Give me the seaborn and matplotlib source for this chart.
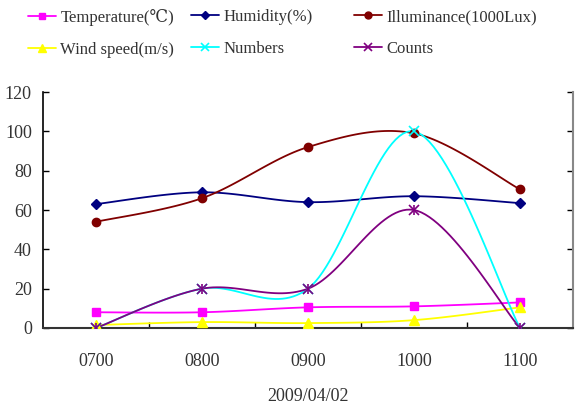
import numpy as np
import pandas as pd
import seaborn as sns
import matplotlib
matplotlib.use("Agg")
import matplotlib.pyplot as plt
from matplotlib.ticker import FixedLocator

# ---- data ----
times = ["0700", "0800", "0900", "1000", "1100"]
temperature = [8, 8, 10.5, 11, 13]
humidity = [63, 69, 64, 67, 63.5]
illuminance = [54, 66, 92, 99, 70.5]
wind_speed = [1.5, 3, 2.5, 4, 10.5]
numbers = [0, 20, 20, 100, 0]
counts = [0, 20, 20, 60, 0]
series_names = ["Temperature(℃)", "Humidity(%)", "Illuminance(1000Lux)",
                "Wind speed(m/s)", "Numbers", "Counts"]
xlabel = "2009/04/02"
yticks = [0, 20, 40, 60, 80, 100, 120]

series = [temperature, humidity, illuminance, wind_speed, numbers, counts]
colors = ["#FF00FF", "#000080", "#800000", "#FFFF00", "#00FFFF", "#800080"]
markers = ["s", "D", "o", "^", "x", "*x"]
msizes = [6, 5, 6, 7, 7, 7]

sns.set_theme(style="white")
plt.rcParams["font.family"] = ["Liberation Serif", "DejaVu Serif"]

fig = plt.figure(figsize=(5.77, 4.15), dpi=100)
ax = fig.add_axes([43/577, 1-328/415, 530/577, 236/415])

xpos = np.arange(len(times)) + 0.5


def smooth(xs, ys, n=30):
    # Catmull-Rom style smoothing (drawing style of the line only)
    xs = np.asarray(xs, float); ys = np.asarray(ys, float)
    px = np.concatenate([[xs[0]], xs, [xs[-1]]])
    py = np.concatenate([[ys[0]], ys, [ys[-1]]])
    ox, oy = [], []
    for i in range(1, len(px) - 2):
        t = np.linspace(0, 1, n)
        h00 = 2*t**3 - 3*t**2 + 1; h10 = t**3 - 2*t**2 + t
        h01 = -2*t**3 + 3*t**2; h11 = t**3 - t**2
        mx1 = (px[i+1]-px[i-1])/2; mx2 = (px[i+2]-px[i])/2
        my1 = (py[i+1]-py[i-1])/2; my2 = (py[i+2]-py[i])/2
        ox.append(h00*px[i] + h10*mx1 + h01*px[i+1] + h11*mx2)
        oy.append(h00*py[i] + h10*my1 + h01*py[i+1] + h11*my2)
    return np.concatenate(ox), np.concatenate(oy)


handles = {}
for name, vals, c, m, ms in zip(series_names, series, colors, markers, msizes):
    sx, sy = smooth(xpos, vals)
    sns.lineplot(x=sx, y=sy, ax=ax, color=c, lw=1.3, sort=False, estimator=None)
    df = pd.DataFrame({"x": xpos, "y": vals})
    if m == "*x":
        ax.plot(df["x"], df["y"], ls="none", marker="x", ms=ms, mew=1.2, color=c, zorder=5)
        ax.plot(df["x"], df["y"], ls="none", marker="|", ms=ms, mew=1.2, color=c, zorder=5)
        h, = ax.plot([], [], color=c, lw=1.3, marker="x", ms=ms - 1, mew=1.2)
    elif m == "x":
        ax.plot(df["x"], df["y"], ls="none", marker="x", ms=ms, mew=1.2, color=c, zorder=5)
        h, = ax.plot([], [], color=c, lw=1.3, marker="x", ms=ms - 1, mew=1.2)
    else:
        ax.plot(df["x"], df["y"], ls="none", marker=m, ms=ms, color=c, zorder=5)
        h, = ax.plot([], [], color=c, lw=1.3, marker=m, ms=ms - 1)
    handles[name] = h

ax.set_xlim(0, 5)
ax.set_ylim(0, 120)
ax.set_yticks(yticks)
ax.set_xticks(xpos)
ax.set_xticklabels(times)
ax.xaxis.set_minor_locator(FixedLocator([1, 2, 3, 4]))
ax.tick_params(axis="x", which="major", length=0, pad=18, labelsize=13, colors="#333333")
ax.tick_params(axis="x", which="minor", direction="in", length=4, width=1, color="black", bottom=True)
ax.tick_params(axis="y", which="major", direction="in", length=4, width=1, left=True, right=True,
               labelsize=13, pad=8, colors="#333333")
ax.tick_params(axis="y", which="major", color="black")
ax.set_xlabel(xlabel, fontsize=13, labelpad=13, color="#333333")

ax.spines["top"].set_visible(False)
ax.spines["left"].set_color("black"); ax.spines["left"].set_linewidth(1.2)
ax.spines["bottom"].set_color("#333333"); ax.spines["bottom"].set_linewidth(1.5)
ax.spines["right"].set_color("#888888"); ax.spines["right"].set_linewidth(1.5)

# legend: three columns, two rows (row-wise order)
col_x = [28/577, 191/577, 354/577]
for k, x0 in enumerate(col_x):
    names = [series_names[k], series_names[k + 3]]
    leg = fig.legend([handles[n] for n in names], names, loc="upper left",
                     bbox_to_anchor=(x0, 1 - 9/415), frameon=False, fontsize=12,
                     handlelength=1.7, handletextpad=0.25, labelspacing=0.95,
                     borderpad=0, borderaxespad=0, labelcolor="#333333")

fig.savefig("out.png", dpi=100)
